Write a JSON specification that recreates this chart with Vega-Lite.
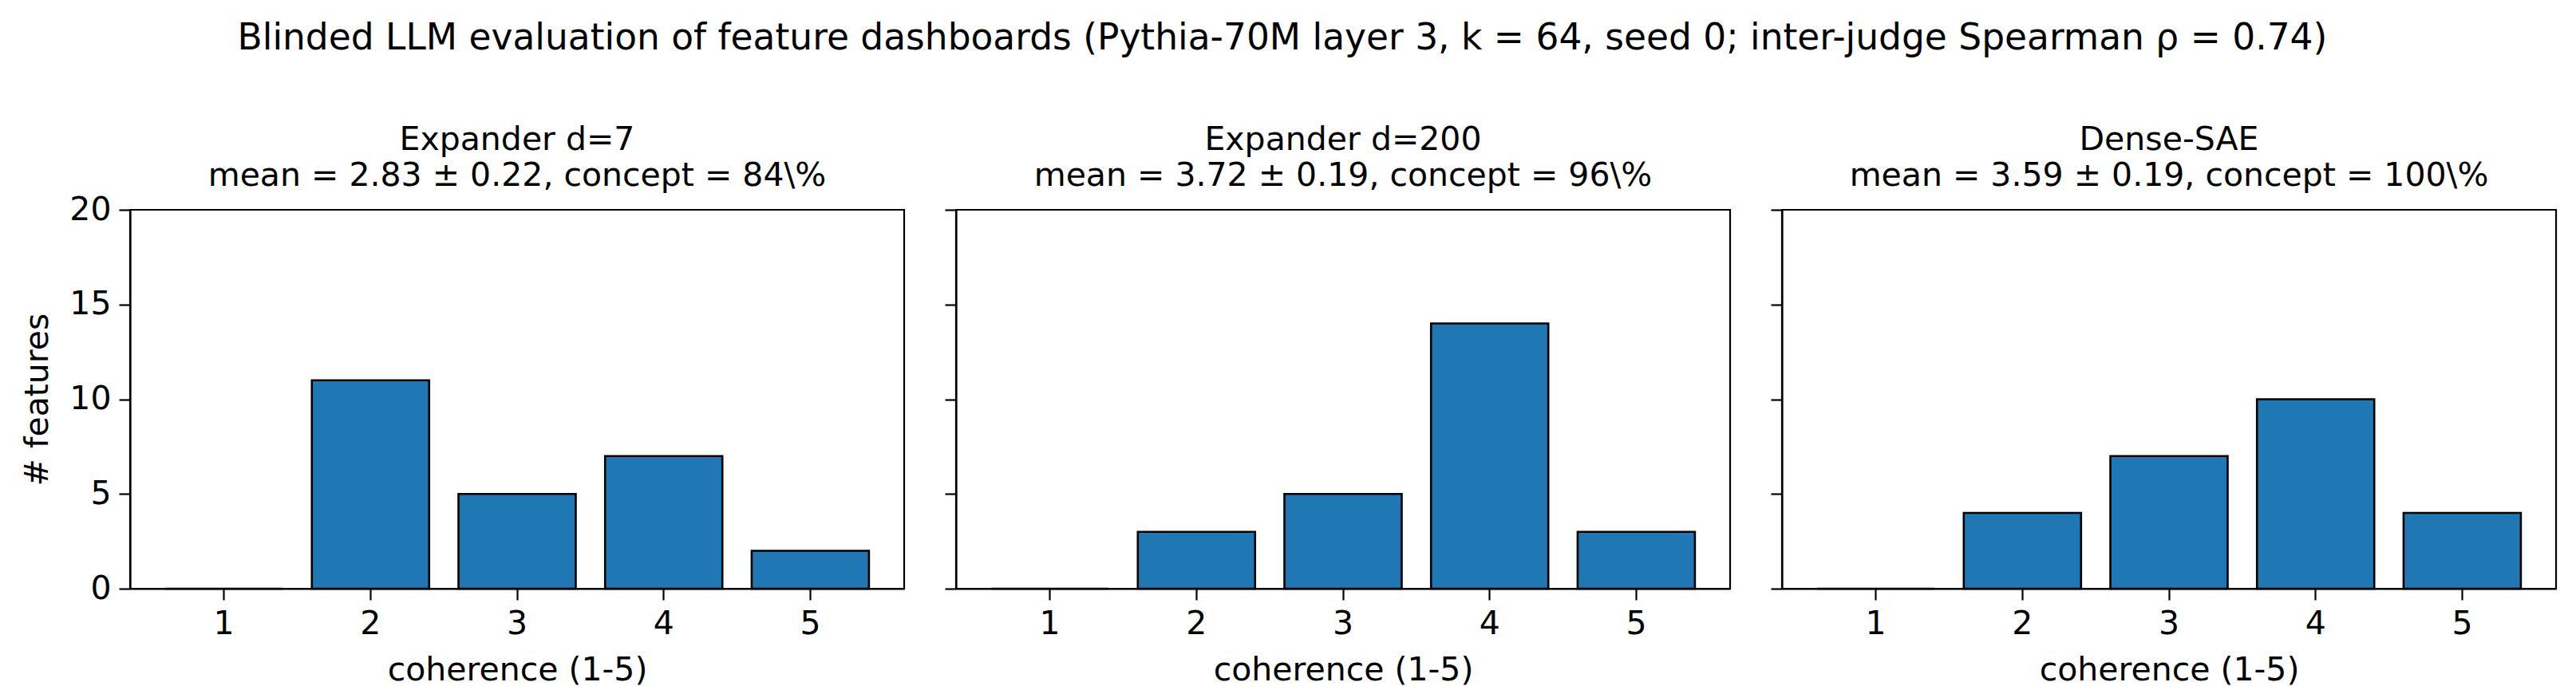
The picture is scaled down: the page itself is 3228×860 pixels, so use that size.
{
  "$schema": "https://vega.github.io/schema/vega-lite/v6.json",
  "background": "white",
  "padding": {"left": 25, "top": 26, "right": 5, "bottom": 5},
  "title": {
    "text": "Blinded LLM evaluation of feature dashboards (Pythia-70M layer 3, k = 64, seed 0; inter-judge Spearman ρ = 0.74)",
    "anchor": "middle",
    "frame": "bounds",
    "fontSize": 45.5,
    "font": "DejaVu Sans",
    "fontWeight": "normal",
    "color": "black",
    "offset": 82,
    "dx": -8
  },
  "data": {
    "values": [
      {"model": "Expander d=7", "score": 1, "count": 0},
      {"model": "Expander d=7", "score": 2, "count": 11},
      {"model": "Expander d=7", "score": 3, "count": 5},
      {"model": "Expander d=7", "score": 4, "count": 7},
      {"model": "Expander d=7", "score": 5, "count": 2},
      {"model": "Expander d=200", "score": 1, "count": 0},
      {"model": "Expander d=200", "score": 2, "count": 3},
      {"model": "Expander d=200", "score": 3, "count": 5},
      {"model": "Expander d=200", "score": 4, "count": 14},
      {"model": "Expander d=200", "score": 5, "count": 3},
      {"model": "Dense-SAE", "score": 1, "count": 0},
      {"model": "Dense-SAE", "score": 2, "count": 4},
      {"model": "Dense-SAE", "score": 3, "count": 7},
      {"model": "Dense-SAE", "score": 4, "count": 10},
      {"model": "Dense-SAE", "score": 5, "count": 4}
    ]
  },
  "spacing": 46,
  "config": {
    "font": "DejaVu Sans",
    "view": {"stroke": "black", "strokeWidth": 2.2},
    "axis": {
      "labelFont": "DejaVu Sans",
      "titleFont": "DejaVu Sans",
      "labelFontSize": 41,
      "titleFontSize": 41,
      "titleFontWeight": "normal",
      "labelColor": "black",
      "titleColor": "black",
      "domainColor": "black",
      "domainWidth": 2.2,
      "tickColor": "black",
      "tickWidth": 2.2,
      "tickSize": 14,
      "labelPadding": 10,
      "grid": false
    },
    "title": {
      "font": "DejaVu Sans",
      "fontSize": 41,
      "fontWeight": "normal",
      "color": "black",
      "lineHeight": 45
    }
  },
  "hconcat": [
    {
      "width": 970,
      "height": 475,
      "title": {"text": ["Expander d=7", "mean = 2.83 ± 0.22, concept = 84\\%"], "frame": "group", "offset": 0},
      "transform": [{"filter": "datum.model === 'Expander d=7'"}],
      "mark": {"type": "bar", "color": "#1f77b4", "stroke": "black", "strokeWidth": 2.6},
      "encoding": {
        "x": {"field": "score", "type": "ordinal", "scale": {"paddingInner": 0.2, "paddingOuter": 0.24},
              "axis": {"labelAngle": 0, "title": "coherence (1-5)", "titlePadding": 18}},
        "y": {"field": "count", "type": "quantitative", "scale": {"domain": [0, 20], "nice": false},
              "axis": {"values": [0, 5, 10, 15, 20], "title": "# features", "titlePadding": 18}}
      }
    },
    {
      "width": 970,
      "height": 475,
      "title": {"text": ["Expander d=200", "mean = 3.72 ± 0.19, concept = 96\\%"], "frame": "group", "offset": 20},
      "transform": [{"filter": "datum.model === 'Expander d=200'"}],
      "mark": {"type": "bar", "color": "#1f77b4", "stroke": "black", "strokeWidth": 2.6},
      "encoding": {
        "x": {"field": "score", "type": "ordinal", "scale": {"paddingInner": 0.2, "paddingOuter": 0.24},
              "axis": {"labelAngle": 0, "title": "coherence (1-5)", "titlePadding": 18}},
        "y": {"field": "count", "type": "quantitative", "scale": {"domain": [0, 20], "nice": false},
              "axis": {"values": [0, 5, 10, 15, 20], "labels": false, "title": null}}
      }
    },
    {
      "width": 970,
      "height": 475,
      "title": {"text": ["Dense-SAE", "mean = 3.59 ± 0.19, concept = 100\\%"], "frame": "group", "offset": 20},
      "transform": [{"filter": "datum.model === 'Dense-SAE'"}],
      "mark": {"type": "bar", "color": "#1f77b4", "stroke": "black", "strokeWidth": 2.6},
      "encoding": {
        "x": {"field": "score", "type": "ordinal", "scale": {"paddingInner": 0.2, "paddingOuter": 0.24},
              "axis": {"labelAngle": 0, "title": "coherence (1-5)", "titlePadding": 18}},
        "y": {"field": "count", "type": "quantitative", "scale": {"domain": [0, 20], "nice": false},
              "axis": {"values": [0, 5, 10, 15, 20], "labels": false, "title": null}}
      }
    }
  ]
}
